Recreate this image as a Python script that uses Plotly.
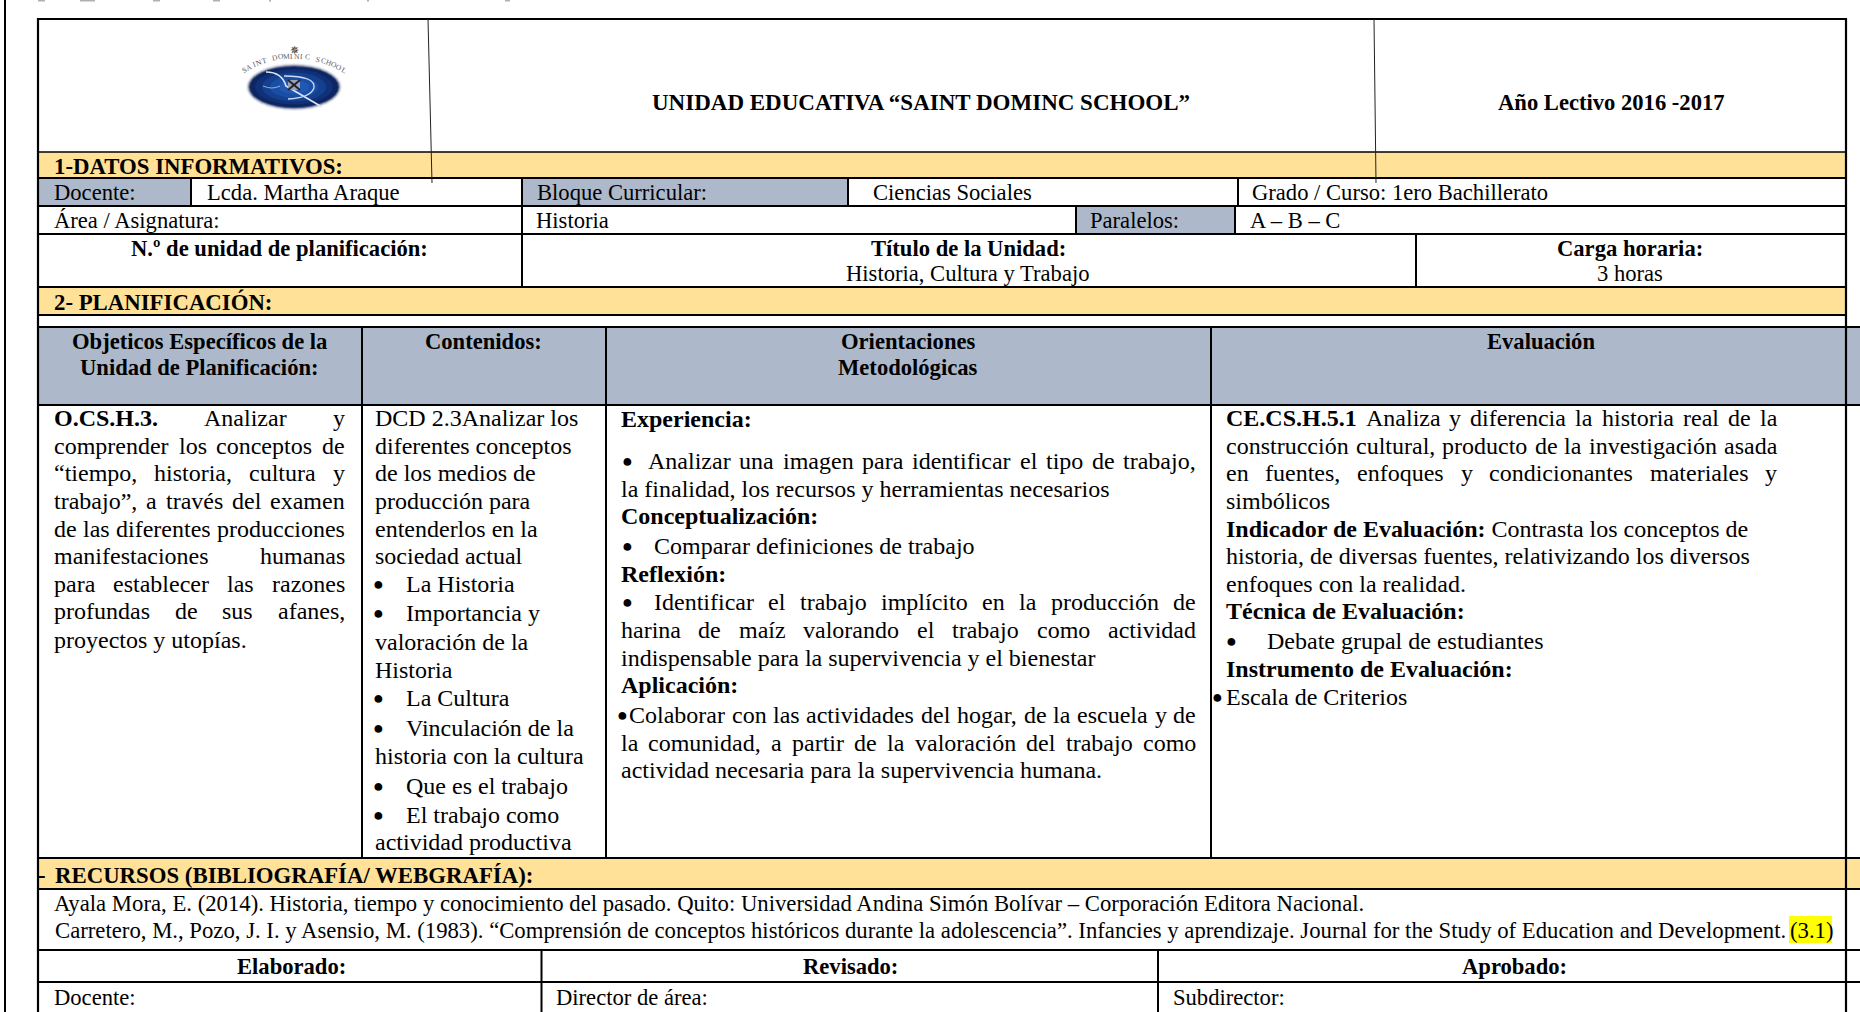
import unicodedata, re, math
import plotly.graph_objects as go

YELLOW = "#FFE198"
BLUE = "#ADB9CA"
FONT = "Liberation Serif"
FS = 22.8
FS_BODY = 24
FS_HEAD = 22.6
FS_BIB = 22.72
INK = "#000000"

# ---- text content ----
band_titles = ["1-DATOS INFORMATIVOS:", "2- PLANIFICACIÓN:", "RECURSOS (BIBLIOGRAFÍA/ WEBGRAFÍA):"]
school = "UNIDAD EDUCATIVA “SAINT DOMINC SCHOOL”"
year = "Año Lectivo 2016 -2017"
row1 = ["Docente:", "Lcda. Martha Araque", "Bloque Curricular:", "Ciencias Sociales", "Grado / Curso: 1ero Bachillerato"]
row2 = ["Área / Asignatura:", "Historia", "Paralelos:", "A – B – C"]
row3 = ["N.º de unidad de planificación:", "Título de la Unidad:", "Carga horaria:"]
row3b = ["Historia, Cultura y Trabajo", "3 horas"]
headers = [["Objeticos Específicos de la", "Unidad de Planificación:"], ["Contenidos:"], ["Orientaciones", "Metodológicas"], ["Evaluación"]]
objetivos = ["<b>O.CS.H.3.</b> Analizar y", "comprender los conceptos de", "“tiempo, historia, cultura y",
             "trabajo”, a través del examen", "de las diferentes producciones", "manifestaciones humanas",
             "para establecer las razones", "profundas de sus afanes,", "proyectos y utopías."]
contenidos = ["DCD 2.3Analizar los", "diferentes conceptos", "de los medios de", "producción para", "entenderlos en la",
              "sociedad actual", "La Historia", "Importancia y", "valoración de la", "Historia", "La Cultura",
              "Vinculación de la", "historia con la cultura", "Que es el trabajo", "El trabajo como", "actividad productiva"]
contenidos_bullets = [6, 7, 10, 11, 13, 14]
orientaciones = ["<b>Experiencia:</b>", "Analizar una imagen para identificar el tipo de trabajo,",
                 "la finalidad, los recursos y herramientas necesarios", "<b>Conceptualización:</b>",
                 "Comparar definiciones de trabajo", "<b>Reflexión:</b>",
                 "Identificar el trabajo implícito en la producción de",
                 "harina de maíz valorando el trabajo como actividad",
                 "indispensable para la supervivencia y el bienestar", "<b>Aplicación:</b>",
                 "Colaborar con las actividades del hogar, de la escuela y de",
                 "la comunidad, a partir de la valoración del trabajo como",
                 "actividad necesaria para la supervivencia humana."]
evaluacion = ["<b>CE.CS.H.5.1</b> Analiza y diferencia la historia real de la",
              "construcción cultural, producto de la investigación asada",
              "en fuentes, enfoques y condicionantes materiales y", "simbólicos",
              "<b>Indicador de Evaluación:</b> Contrasta los conceptos de",
              "historia, de diversas fuentes, relativizando los diversos", "enfoques con la realidad.",
              "<b>Técnica de Evaluación:</b>", "Debate grupal de estudiantes", "<b>Instrumento de Evaluación:</b>",
              "Escala de Criterios"]
biblio = ["Ayala Mora, E. (2014). Historia, tiempo y conocimiento del pasado. Quito: Universidad Andina Simón Bolívar – Corporación Editora Nacional.",
          "Carretero, M., Pozo, J. I. y Asensio, M. (1983). “Comprensión de conceptos históricos durante la adolescencia”. Infancies y aprendizaje. Journal for the Study of Education and Development."]
biblio_mark = "(3.1)"
firmas = ["Elaborado:", "Revisado:", "Aprobado:"]
cargos = ["Docente:", "Director de área:", "Subdirector:"]
logo_text = "SAINT DOMINIC SCHOOL"

# ---- font metrics (Times-compatible widths) for justified lines ----
_r = dict(zip("abcdefghijklmnopqrstuvwxyz", [444,500,444,500,444,333,500,500,278,278,500,278,778,500,500,500,500,333,389,278,500,500,722,500,500,444]))
_r.update(dict(zip("ABCDEFGHIJKLMNOPQRSTUVWXYZ", [722,667,667,722,611,556,722,722,333,389,722,611,889,722,722,556,722,667,556,611,722,722,944,722,722,611])))
_b = dict(zip("abcdefghijklmnopqrstuvwxyz", [500,556,444,556,444,333,500,556,278,333,556,278,833,556,500,556,556,444,389,333,556,500,722,500,500,444]))
_b.update(dict(zip("ABCDEFGHIJKLMNOPQRSTUVWXYZ", [722,667,722,722,667,611,778,778,389,500,778,667,944,722,778,611,778,722,556,667,722,722,1000,722,722,667])))
for t, c in ((_r, 278), (_b, 333)):
    t.update({".": 250, ",": 250, ":": c, ";": c, "-": 333, "“": 444, "”": 444 if t is _r else 500})
    t.update({d: 500 for d in "0123456789"})

def width(word, size):
    bold = "<b>" in word
    plain = re.sub(r"</?b>", "", word)
    table = _b if bold else _r
    out = 0
    for ch in plain:
        base = unicodedata.normalize("NFD", ch)[0]
        out += table.get(base, 500)
    return out * size / 1000

annotations = []
def text(x, y, s, anchor="left", size=FS, color=INK, angle=0):
    annotations.append(dict(x=x, y=y, xref="x", yref="y", text=s, showarrow=False, xanchor=anchor, yanchor="middle",
                            align=anchor, textangle=angle, borderpad=0, borderwidth=0,
                            font=dict(family=FONT, size=size, color=color)))

def expand(line):
    out = []
    for w in re.findall(r"<b>.*?</b>|\S+", line):
        if w.startswith("<b>"):
            out += ["<b>%s</b>" % p for p in w[3:-4].split(" ")]
        else:
            out.append(w)
    return out

def justified(x0, x1, y, line, size=FS_BODY):
    ws = expand(line)
    ww = [width(w, size) for w in ws]
    gap = (x1 - x0 - sum(ww)) / max(1, len(ws) - 1)
    x = x0
    for w, wd in zip(ws, ww):
        text(x, y, w, size=size)
        x += wd + gap

def bullet(x, y):
    text(x, y, "●", anchor="center", size=18)

shapes = []
def rect(x0, y0, x1, y1, fill):
    shapes.append(dict(type="rect", x0=x0, y0=y0, x1=x1, y1=y1, xref="x", yref="y", fillcolor=fill, line_width=0, layer="below"))
def line(x0, y0, x1, y1, w=2, color="#000000"):
    shapes.append(dict(type="line", x0=x0, y0=y0, x1=x1, y1=y1, xref="x", yref="y", line=dict(color=color, width=w), layer="above"))

# ---- table geometry ----
L, R = 38, 1846
for y0, y1, x1 in ((152, 178, R), (287, 315, R), (858, 889, 1860)):
    rect(L, y0, x1, y1, YELLOW)
rect(L, 178, 191, 206, BLUE)
rect(522, 178, 848, 206, BLUE)
rect(1076, 206, 1235, 234, BLUE)
rect(L, 327, 1860, 405, BLUE)
rect(1789, 916, 1832, 943, "#FFFF00")

# horizontal rules
for y, w, x1 in ((19, 2, R), (152, 1.5, R), (178, 2, R), (206, 2, R), (234, 2, R), (287, 2, R), (315, 2, R),
                 (327, 2, 1860), (405, 2, 1860), (858, 2, 1860), (889, 2, 1860), (950, 2, 1860), (982, 2, 1860)):
    line(L, y, x1, y, w)
# outer verticals
line(5, 0, 5, 1012, 2)
line(L, 18, L, 1012, 2.2)
line(R, 18, R, 1012, 2.2)
# inner verticals
for x, y0, y1 in ((191, 178, 206), (522, 178, 287), (848, 178, 206), (1238, 178, 206), (1076, 206, 234), (1235, 206, 234),
                  (1416, 234, 287), (362, 327, 858), (606, 327, 858), (1211, 327, 858), (541.5, 950, 1012), (1158, 950, 1012)):
    line(x, y0, x, y1, 2)
# the two hairlines crossing the header
line(428, 19, 432, 183, 1, "#222222")
line(1374, 19, 1376, 183, 1, "#222222")
# clipped remains of the line of text above the page
for x0, x1 in ((38, 45), (80, 95), (153, 160), (213, 220), (269, 271), (367, 369), (505, 510)):
    line(x0, 0.5, x1, 0.5, 2, "#b0b0b0")

# ---- logo: concentric ellipses with a soft edge ----
LX, LY = 294, 87
rings = [(48, 24, "#eef0f4"), (47, 23, "#c9cdd8"), (46, 22, "#8a93aa"), (45, 21, "#3a4a76"), (44, 20, "#0d2560"),
         (39, 17.5, "#103078"), (32, 14.5, "#14408e"), (24, 11, "#1a4ea6"), (15, 7, "#2058b4")]
for rx, ry, col in rings:
    shapes.append(dict(type="circle", x0=LX-rx, x1=LX+rx, y0=LY-ry, y1=LY+ry, xref="x", yref="y", fillcolor=col, line_width=0, layer="below"))
for p, c, w in (("M 266 72 Q 282 72 286 86 L 322 107", "#dfe7f5", 1.6), ("M 284 76 Q 316 76 314 88 Q 310 98 288 99", "#cfdcf2", 1.3), ("M 263 86 Q 272 90 280 86", "#8fb0e0", 1)):
    shapes.append(dict(type="path", path=p, xref="x", yref="y", line=dict(color=c, width=w), layer="below"))
shapes.append(dict(type="rect", x0=288, x1=300, y0=80, y1=90, xref="x", yref="y", fillcolor="#9aa3b6", line_width=0, layer="below"))
shapes.append(dict(type="line", x0=288, x1=300, y0=80, y1=90, xref="x", yref="y", line=dict(color="#20242e", width=2), layer="below"))
shapes.append(dict(type="line", x0=288, x1=300, y0=90, y1=80, xref="x", yref="y", line=dict(color="#20242e", width=2), layer="below"))
text(294, 50, "✵", anchor="center", size=11, color="#222222")
n = len(logo_text)
for i, ch in enumerate(logo_text):
    t = -1 + 2 * i / (n - 1)
    text(LX + 50.5 * t, 56 + 14 * t * t, ch, anchor="center", size=7.5, color="#555a66", angle=math.degrees(math.atan(0.55 * t)))

# ---- header block ----
text(921, 102, "<b>%s</b>" % school, "center", size=23)
text(1611, 102, "<b>%s</b>" % year, "center", size=FS_HEAD)

Y_R1, Y_R2, Y_R3, Y_R3B = 192, 220, 248.5, 273
for x, s, y in ((54, "<b>%s</b>" % band_titles[0], 166), (54, "<b>%s</b>" % band_titles[1], 302), (54.5, "<b>%s</b>" % band_titles[2], 875), (38, "<b>-</b>", 875)):
    text(x, y, s)
for x, s in zip((54, 207, 537, 873, 1252), row1):
    text(x, Y_R1, s, size=FS_HEAD)
for x, s in zip((54, 536, 1090, 1250), row2):
    text(x, Y_R2, s, size=FS_HEAD)
for x, s in zip((279, 968, 1630), row3):
    text(x, Y_R3, "<b>%s</b>" % s, "center", size=FS_HEAD)
for x, s in zip((968, 1630), row3b):
    text(x, Y_R3B, s, "center", size=FS_HEAD)

HEAD_X = (199, 483, 908, 1541)
for x, lines in zip(HEAD_X, headers):
    for y, s in zip((341, 367), lines):
        text(x, y, "<b>%s</b>" % s, "center", size=FS_HEAD)

# ---- column 1 ----
Y_OBJ = [418, 446, 473, 501, 529, 556, 584, 611, 640]
for i, (y, s) in enumerate(zip(Y_OBJ, objetivos)):
    if i < len(objetivos) - 1:
        justified(54, 345, y, s)
    else:
        text(54, y, s, size=FS_BODY)

# ---- column 2 ----
Y_CON = [418, 446, 473, 501, 529, 556, 584, 613, 642, 670, 698, 728, 756, 786, 815, 842]
for i, (y, s) in enumerate(zip(Y_CON, contenidos)):
    if i in contenidos_bullets:
        bullet(378, y)
        text(406, y, s, size=FS_BODY)
    else:
        text(374.5, y, s, size=FS_BODY)

# ---- column 3 ----
Y_ORI = [419, 461, 489, 516, 546, 574, 602, 630, 658, 685, 715, 743, 770]
ORI_X0 = {1: 648, 4: 654, 6: 654, 7: 620.5, 10: 629, 11: 620.5}
ORI_BUL = {1: 627, 4: 627, 6: 627, 10: 622.5}
for i, (y, s) in enumerate(zip(Y_ORI, orientaciones)):
    if i in ORI_BUL:
        bullet(ORI_BUL[i], y)
    if i in (1, 6, 7, 10, 11):
        justified(ORI_X0[i], 1196, y, s)
    else:
        text(ORI_X0.get(i, 620.5), y, s, size=FS_BODY)

# ---- column 4 ----
Y_EVA = [418, 446, 473, 501, 529, 556, 584, 611, 641, 669, 697]
for i, (y, s) in enumerate(zip(Y_EVA, evaluacion)):
    if i < 3:
        justified(1226, 1777, y, s)
    elif i == 8:
        bullet(1231, y)
        text(1267, y, s, size=FS_BODY)
    elif i == 10:
        bullet(1217, y)
        text(1226, y, s, size=FS_BODY)
    else:
        text(1226, y, s, size=FS_BODY)

# ---- bottom block ----
text(54, 903.5, biblio[0], size=FS_BIB)
text(54.5, 930, biblio[1], size=FS_BIB)
text(1790, 930, biblio_mark, size=FS_BIB)
for x, s in zip((291, 850, 1514), firmas):
    text(x, 966, "<b>%s</b>" % s, "center", size=FS_HEAD)
for x, s in zip((54, 556, 1173), cargos):
    text(x, 997, s, size=FS_HEAD)

fig = go.Figure()
fig.update_layout(width=1860, height=1012, margin=dict(l=0, r=0, t=0, b=0), paper_bgcolor="white", plot_bgcolor="white",
                  showlegend=False, shapes=shapes, annotations=annotations,
                  xaxis=dict(range=[0, 1860], visible=False, fixedrange=True),
                  yaxis=dict(range=[1012, 0], visible=False, fixedrange=True))
fig.write_html("out.html", config=dict(displayModeBar=False, staticPlot=True),
               post_script="document.body.style.margin='0';")
